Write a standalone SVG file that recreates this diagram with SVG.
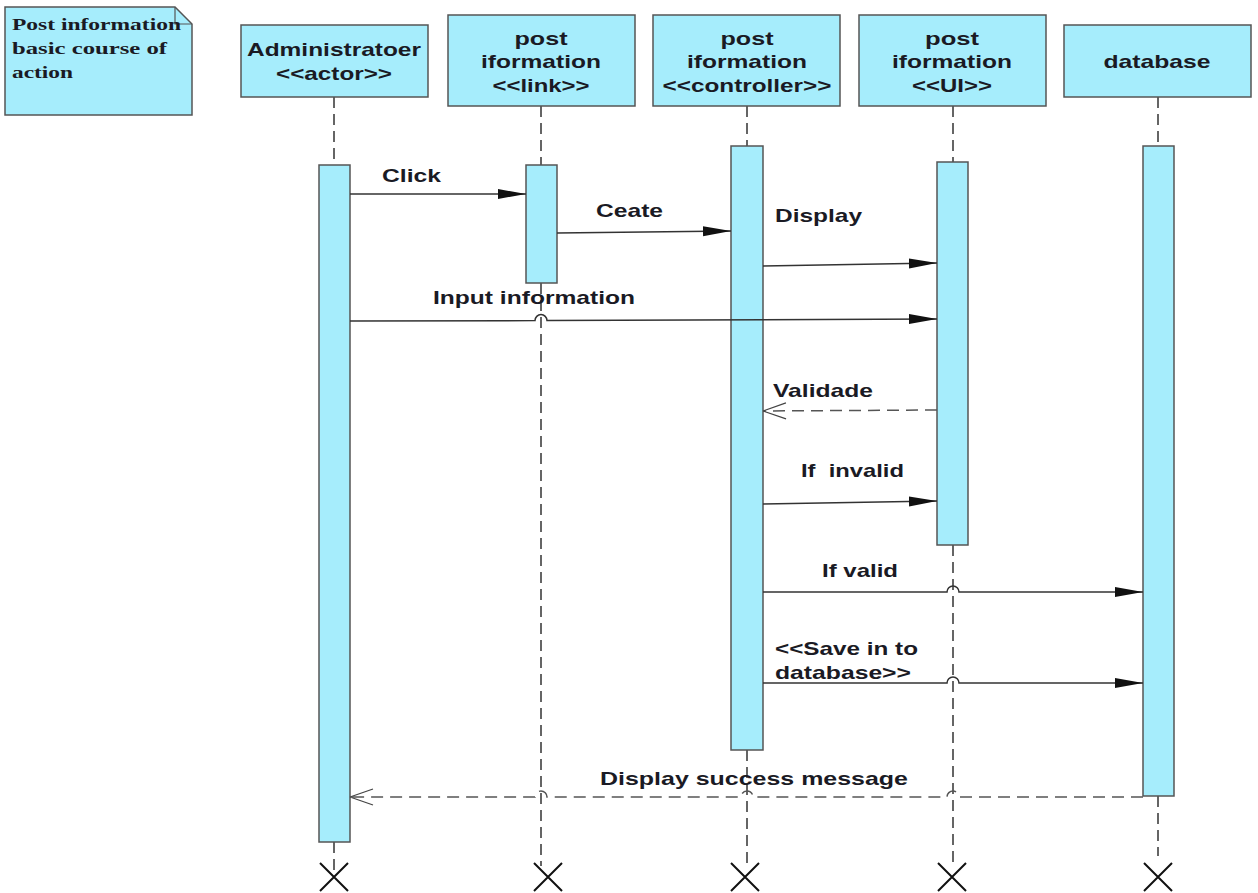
<svg xmlns="http://www.w3.org/2000/svg" width="1258" height="893" viewBox="0 0 1258 893">
<defs>
<style>
.box{fill:#a6edfc;stroke:#555;stroke-width:1.5}
.act{fill:#a6edfc;stroke:#555;stroke-width:1.5}
.life{stroke:#333;stroke-width:1.5;stroke-dasharray:11 6;fill:none}
.msg{stroke:#333;stroke-width:1.5;fill:none}
.ret{stroke:#555;stroke-width:1.5;fill:none;stroke-dasharray:12 7}
.x{stroke:#111;stroke-width:2;fill:none}
.t{font-family:"Liberation Sans",Arial,sans-serif;font-weight:bold;font-size:19px;fill:#1a1a24}
.n{font-family:"Liberation Serif","Times New Roman",serif;font-weight:bold;font-size:17px;fill:#1a1a24}
</style>
<marker id="fill" markerUnits="userSpaceOnUse" markerWidth="30" markerHeight="14" refX="28" refY="7" orient="auto">
<path d="M0,2 L28,7 L0,12 z" fill="#111"/>
</marker>
<marker id="open" markerUnits="userSpaceOnUse" markerWidth="30" markerHeight="20" refX="25" refY="10" orient="auto">
<path d="M25,10 L2,2 M25,10 L2,18" stroke="#444" stroke-width="1.3" fill="none"/>
</marker>
</defs>

<g id="note">
<path d="M5,7 L175,7 L192,24 L192,115 L5,115 Z" class="box"/>
<path d="M175,7 L175,24 L192,24" fill="none" stroke="#555" stroke-width="1.2"/>
<text class="n" x="12" y="30" textLength="169" lengthAdjust="spacingAndGlyphs">Post information</text>
<text class="n" x="12" y="54" textLength="155" lengthAdjust="spacingAndGlyphs">basic course of</text>
<text class="n" x="12" y="78" textLength="61" lengthAdjust="spacingAndGlyphs">action</text>
</g>

<g id="lifelines">
<path class="life" d="M334,97 V165 M334,842 V870"/>
<path class="life" d="M541,106 V165 M541,283 V866"/>
<path class="life" d="M747,106 V146 M747,750 V866"/>
<path class="life" d="M953,106 V162 M953,545 V866"/>
<path class="life" d="M1158,97 V146 M1158,796 V856"/>
</g>

<g id="admin">
<rect class="box" x="241" y="25" width="187" height="72"/>
<text class="t" x="334" y="56" text-anchor="middle" textLength="174" lengthAdjust="spacingAndGlyphs">Administratoer</text>
<text class="t" x="334" y="80" text-anchor="middle" textLength="116" lengthAdjust="spacingAndGlyphs">&lt;&lt;actor&gt;&gt;</text>
<rect class="act" x="319" y="165" width="31" height="677"/>
<path class="x" d="M320,863 L348,891 M348,863 L320,891"/>
</g>

<g id="link">
<rect class="box" x="448" y="15" width="187" height="91"/>
<text class="t" x="541" y="45" text-anchor="middle" textLength="53" lengthAdjust="spacingAndGlyphs">post</text>
<text class="t" x="541" y="68" text-anchor="middle" textLength="120" lengthAdjust="spacingAndGlyphs">iformation</text>
<text class="t" x="541" y="92" text-anchor="middle" textLength="97" lengthAdjust="spacingAndGlyphs">&lt;&lt;link&gt;&gt;</text>
<rect class="act" x="526" y="165" width="31" height="118"/>
<path class="x" d="M534,863 L562,891 M562,863 L534,891"/>
</g>

<g id="controller">
<rect class="box" x="653" y="15" width="187" height="91"/>
<text class="t" x="747" y="45" text-anchor="middle" textLength="53" lengthAdjust="spacingAndGlyphs">post</text>
<text class="t" x="747" y="68" text-anchor="middle" textLength="120" lengthAdjust="spacingAndGlyphs">iformation</text>
<text class="t" x="747" y="92" text-anchor="middle" textLength="169" lengthAdjust="spacingAndGlyphs">&lt;&lt;controller&gt;&gt;</text>
<rect class="act" x="731" y="146" width="32" height="604"/>
<path class="x" d="M731,863 L759,891 M759,863 L731,891"/>
</g>

<g id="ui">
<rect class="box" x="859" y="15" width="187" height="91"/>
<text class="t" x="952" y="45" text-anchor="middle" textLength="54" lengthAdjust="spacingAndGlyphs">post</text>
<text class="t" x="952" y="68" text-anchor="middle" textLength="120" lengthAdjust="spacingAndGlyphs">iformation</text>
<text class="t" x="952" y="92" text-anchor="middle" textLength="80" lengthAdjust="spacingAndGlyphs">&lt;&lt;UI&gt;&gt;</text>
<rect class="act" x="937" y="162" width="31" height="383"/>
<path class="x" d="M938,863 L966,891 M966,863 L938,891"/>
</g>

<g id="database">
<rect class="box" x="1064" y="25" width="187" height="72"/>
<text class="t" x="1157" y="68" text-anchor="middle" textLength="107" lengthAdjust="spacingAndGlyphs">database</text>
<rect class="act" x="1143" y="146" width="31" height="650"/>
<path class="x" d="M1144,863 L1172,891 M1172,863 L1144,891"/>
</g>

<g id="connectors">
<path class="msg" d="M350,194 L526,194" marker-end="url(#fill)"/>
<path class="msg" d="M557,233 L731,231" marker-end="url(#fill)"/>
<path class="msg" d="M763,266 L937,263" marker-end="url(#fill)"/>
<path class="msg" d="M350,321 L535,320.6 A6,6 0 0 1 547,320.6 L937,319" marker-end="url(#fill)"/>
<path class="ret" d="M937,410 L763,411" marker-end="url(#open)"/>
<path class="msg" d="M763,504 L937,501" marker-end="url(#fill)"/>
<path class="msg" d="M763,592 L947,592 A6,6 0 0 1 959,592 L1143,592" marker-end="url(#fill)"/>
<path class="msg" d="M763,683 L947,683 A6,6 0 0 1 959,683 L1143,683" marker-end="url(#fill)"/>
<path class="ret" d="M1143,797 L959,797 A6,6 0 0 0 947,797 L753,797 A6,6 0 0 0 741,797 L547,797 A6,6 0 0 0 535,797 L350,797" marker-end="url(#open)"/>
</g>

<g id="labels">
<text class="t" x="382" y="182" textLength="59" lengthAdjust="spacingAndGlyphs">Click</text>
<text class="t" x="596" y="217" textLength="67" lengthAdjust="spacingAndGlyphs">Ceate</text>
<text class="t" x="775" y="222" textLength="87" lengthAdjust="spacingAndGlyphs">Display</text>
<text class="t" x="433" y="304" textLength="202" lengthAdjust="spacingAndGlyphs">Input information</text>
<text class="t" x="773" y="397" textLength="100" lengthAdjust="spacingAndGlyphs">Validade</text>
<text class="t" x="801" y="477" textLength="103" lengthAdjust="spacingAndGlyphs" xml:space="preserve">If  invalid</text>
<text class="t" x="822" y="577" textLength="76" lengthAdjust="spacingAndGlyphs">If valid</text>
<text class="t" x="775" y="655" textLength="143" lengthAdjust="spacingAndGlyphs">&lt;&lt;Save in to</text>
<text class="t" x="775" y="679" textLength="136" lengthAdjust="spacingAndGlyphs">database&gt;&gt;</text>
<text class="t" x="600" y="785" textLength="308" lengthAdjust="spacingAndGlyphs">Display success message</text>
</g>
</svg>
